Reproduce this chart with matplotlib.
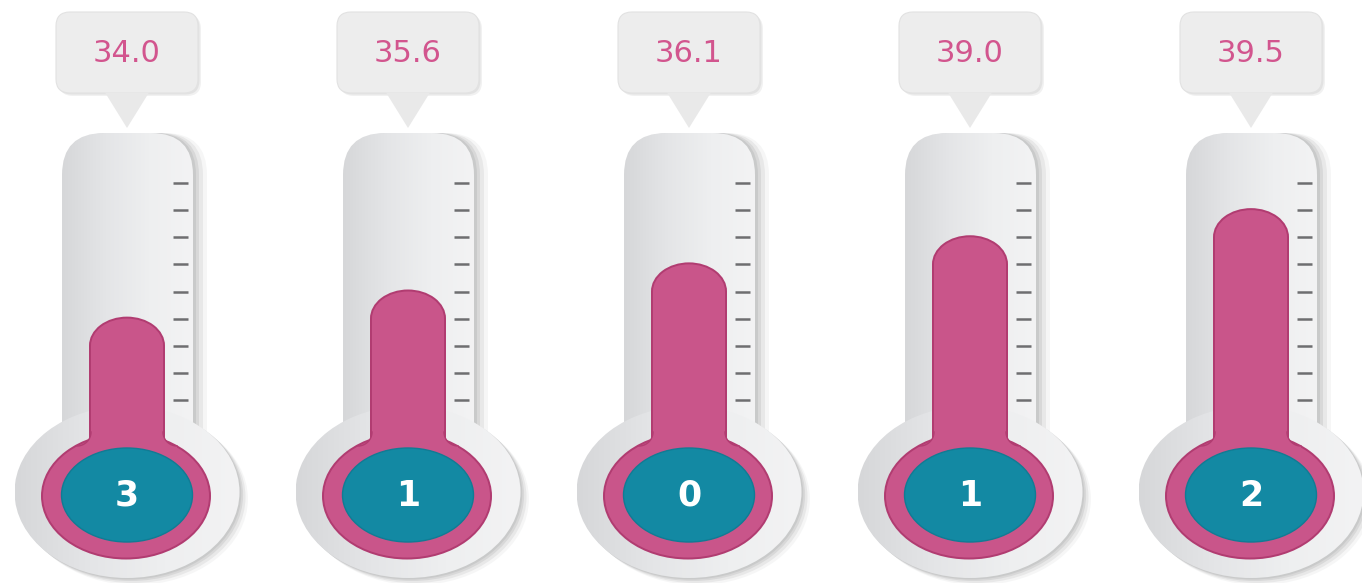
import numpy as np
import matplotlib.pyplot as plt
from matplotlib.patches import FancyBboxPatch, Ellipse, Polygon
from matplotlib.colors import LinearSegmentedColormap

# data
values = [34.0, 35.6, 36.1, 39.0, 39.5]
counts = [3, 1, 0, 1, 2]
fill_ticks = [4, 5, 6, 7, 8]   # tick mark the pink column reaches (from bottom)
n_ticks = 9

PINK = '#C9558A'
PINK_DARK = '#B13C71'
TEAL = '#1389A3'
LABEL = '#D2558E'

# x: one unit per thermometer, y: one unit per tick mark
SX = 1 / 281.0
SY = 1 / 27.125


def ty(py):
    # picture row -> tick units
    return 1 + (400 - py) * SY


fig = plt.figure(figsize=(13.62, 5.83), dpi=100)
ax = fig.add_axes([0, 0, 1, 1])
ax.set_xlim(-127 * SX, (1362 - 127) * SX)
ax.set_ylim(ty(583), ty(0))
ax.axis('off')

grey = LinearSegmentedColormap.from_list('g', ['#D6D7D9', '#E4E5E7', '#EEEFF0', '#F3F3F4'])


def rbox(x0, y0, w, h, r, **kw):
    return FancyBboxPatch((x0, y0), w, h,
                          boxstyle=f"round,pad=0,rounding_size={r * SX}",
                          mutation_aspect=SY / SX, **kw)


def gradient(patch, x0, x1, y0, y1, z):
    ax.add_patch(patch)
    im = ax.imshow(np.linspace(0, 1, 256).reshape(1, -1), cmap=grey,
                   extent=(x0, x1, y0, y1), aspect='auto', zorder=z,
                   interpolation='bicubic')
    im.set_clip_path(patch)


t = np.linspace(0, np.pi / 2, 20)

for i in range(len(values)):
    # callout box
    for off, a in [(3, 0.25), (1.5, 0.35)]:
        ax.add_patch(rbox(i + (-71 + off) * SX, ty(93 + off), 142 * SX, 81 * SY, 14,
                          facecolor='#C8C8C8', edgecolor='none', alpha=a, zorder=1))
    ax.add_patch(rbox(i - 71 * SX, ty(93), 142 * SX, 81 * SY, 14,
                      facecolor='#EDEDED', edgecolor='#E2E2E2', lw=0.8, zorder=2))
    ax.add_patch(Polygon([(i - 22 * SX, ty(92.5)), (i + 22 * SX, ty(92.5)), (i, ty(128))],
                         closed=True, facecolor='#E9E9E9', edgecolor='none', zorder=2))
    ax.text(i, ty(54), f"{values[i]:.1f}", color=LABEL, fontsize=22,
            ha='center', va='center', zorder=3)

    # shadows of tube and bulb
    for off, a in [(14, 0.10), (10, 0.18), (6, 0.25), (3, 0.3)]:
        ax.add_patch(rbox(i + (-65 + off) * SX, ty(500), 131 * SX, (500 - 133) * SY, 42,
                          facecolor='#A9AAAC', edgecolor='none', alpha=a, zorder=1))
        ax.add_patch(Ellipse((i + off * 0.6 * SX, ty(492 + off * 0.5)), 225 * SX, 172 * SY,
                             facecolor='#A9AAAC', edgecolor='none', alpha=a, zorder=1))

    # tube and outer bulb in grey gradient
    tube = rbox(i - 65 * SX, ty(500), 131 * SX, (500 - 133) * SY, 42,
                facecolor='none', edgecolor='none', zorder=2)
    gradient(tube, i - 65 * SX, i + 66 * SX, ty(500), ty(133), 2)
    bulb = Ellipse((i, ty(492)), 225 * SX, 172 * SY, facecolor='none', edgecolor='none', zorder=2)
    gradient(bulb, i - 112 * SX, i + 113 * SX, ty(578), ty(406), 2)

    # tick marks
    ax.hlines(np.arange(1, n_ticks + 1), i + 46 * SX, i + 61 * SX,
              color='#6E6E70', lw=1.8, zorder=4)

    # pink column (bar + rounded cap) and ring
    level = fill_ticks[i]
    cr = 27 * SY
    base = ty(480)
    ax.bar(i, level - cr - base, bottom=base, width=76 * SX, color=PINK_DARK, zorder=5)
    ax.add_patch(Ellipse((i, level - cr), 76 * SX, 2 * cr + 4 * SY,
                         facecolor=PINK_DARK, edgecolor='none', zorder=5))
    ax.add_patch(Ellipse((i - 1 * SX, ty(496)), 170 * SX, 127 * SY,
                         facecolor=PINK_DARK, edgecolor='none', zorder=5))
    ax.add_patch(Ellipse((i - 1 * SX, ty(496)), 166 * SX, 123 * SY,
                         facecolor=PINK, edgecolor='none', zorder=6))
    ax.bar(i, level - cr - base, bottom=base, width=72 * SX, color=PINK, zorder=7)
    ax.add_patch(Ellipse((i, level - cr), 72 * SX, 2 * cr,
                         facecolor=PINK, edgecolor='none', zorder=7))
    # small fillets where the column meets the ring
    for s in (-1, 1):
        fx = s * (50 - 14 * np.cos(t))
        fy = 432 + 14 * np.sin(t)
        pts = list(zip(i + fx * SX, ty(fy))) + [(i + s * 50 * SX, ty(462)), (i + s * 30 * SX, ty(462))]
        ax.add_patch(Polygon(pts, closed=True, facecolor=PINK, edgecolor='none', zorder=7))
        ax.plot(i + fx * SX, ty(fy), color=PINK_DARK, lw=1.0, zorder=7)

    # teal disc with count
    ax.add_patch(Ellipse((i, ty(495)), 131 * SX, 94 * SY,
                         facecolor=TEAL, edgecolor='#107C94', lw=1, zorder=8))
    ax.text(i, ty(496), str(counts[i]), color='white', fontsize=25,
            fontweight='bold', ha='center', va='center', zorder=9)

fig.savefig('out.png', dpi=100, facecolor='white')
